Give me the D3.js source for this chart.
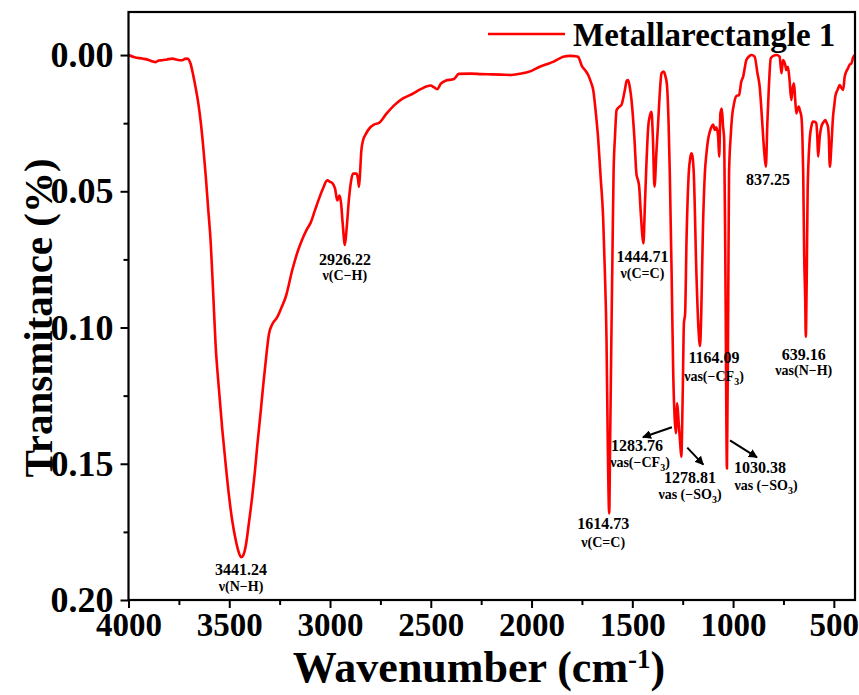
<!DOCTYPE html>
<html>
<head>
<meta charset="utf-8">
<script src="https://cdn.jsdelivr.net/npm/d3@7"></script>
<style>
  body { margin: 0; background: #fff; }
  svg { display: block; }
  text { font-family: "Liberation Serif", "Times New Roman", serif; font-weight: bold; fill: #000; }
</style>
</head>
<body>
<svg id="chart" width="859" height="695"></svg>
<script>
// FT-IR spectrum of Metallarectangle 1
const seriesName = "Metallarectangle 1";

const wavenumber = [
  4000, 3970, 3931, 3900, 3880, 3865, 3850, 3832, 3810, 3782, 3760, 3733, 3720, 3708, 3692, 3680,
  3667, 3655, 3642, 3630, 3617, 3605, 3592, 3580, 3568, 3552, 3535, 3518, 3501, 3485, 3468, 3455,
  3441.24, 3430, 3419, 3403, 3386, 3373, 3361, 3344, 3330, 3319, 3303, 3286, 3262, 3240, 3220, 3187,
  3160, 3138, 3115, 3096, 3075, 3055, 3035, 3014, 3000, 2986, 2975, 2964, 2953, 2945, 2937, 2926.22,
  2918, 2906, 2895, 2886, 2870, 2862, 2856, 2850, 2845, 2835, 2824, 2800, 2782, 2757, 2720, 2675,
  2640, 2592, 2550, 2501, 2485, 2468, 2450, 2427, 2385, 2361, 2300, 2250, 2200, 2150, 2100, 2050,
  2000, 1959, 1930, 1893, 1860, 1843, 1810, 1785, 1769, 1760, 1752, 1735, 1719, 1705, 1694, 1680,
  1669, 1657, 1645, 1636, 1628, 1622, 1614.73, 1610, 1604, 1598, 1593, 1586, 1578, 1565, 1554, 1537,
  1528, 1521, 1512, 1504, 1490, 1479, 1472, 1466, 1458, 1444.71, 1438, 1430, 1421, 1412, 1405, 1398,
  1390, 1380, 1372, 1362, 1355, 1344, 1335, 1328, 1320, 1314, 1305, 1297, 1290, 1283.76, 1277, 1270,
  1262, 1257, 1250, 1244, 1238, 1231, 1220, 1212, 1206, 1200, 1195, 1182, 1172, 1164.09, 1158, 1150,
  1140, 1132, 1124, 1115, 1107, 1099, 1091, 1083, 1074, 1069, 1063, 1056, 1050, 1044, 1038, 1030.38,
  1024, 1020, 1012, 1005, 995, 983, 970, 960, 950, 934, 918, 909, 893, 879, 868, 855,
  846, 837.25, 830, 823, 813, 798, 785, 769, 760, 752, 740, 736, 728, 720, 711, 705,
  698, 692, 686, 681, 674, 668, 661, 656, 652, 647, 642, 639.16, 635, 630, 620, 611,
  603, 595, 587, 582, 578, 570, 562, 550, 542, 535, 529, 525, 520, 512, 504, 497,
  493, 480, 471, 463, 454, 446, 438, 430, 421, 413, 405, 397
];

const transmittance = [
  0.0000, 0.0008, 0.0013, 0.0018, 0.0024, 0.0026, 0.0020, 0.0019, 0.0016, 0.0013, 0.0017, 0.0019, 0.0014, 0.0013, 0.0032, 0.0070,
  0.0119, 0.0170, 0.0243, 0.0330, 0.0441, 0.0560, 0.0689, 0.0870, 0.1061, 0.1220, 0.1371, 0.1500, 0.1620, 0.1710, 0.1780, 0.1820,
  0.1843, 0.1835, 0.1805, 0.1720, 0.1620, 0.1530, 0.1433, 0.1309, 0.1200, 0.1123, 0.1024, 0.0987, 0.0962, 0.0925, 0.0888, 0.0788,
  0.0720, 0.0677, 0.0640, 0.0615, 0.0570, 0.0528, 0.0490, 0.0460, 0.0465, 0.0472, 0.0490, 0.0534, 0.0516, 0.0545, 0.0620, 0.0697,
  0.0640, 0.0528, 0.0460, 0.0435, 0.0435, 0.0450, 0.0484, 0.0420, 0.0354, 0.0310, 0.0292, 0.0265, 0.0255, 0.0249, 0.0215, 0.0180,
  0.0160, 0.0143, 0.0125, 0.0112, 0.0118, 0.0125, 0.0105, 0.0094, 0.0088, 0.0069, 0.0068, 0.0070, 0.0071, 0.0072, 0.0073, 0.0068,
  0.0058, 0.0043, 0.0035, 0.0025, 0.0012, 0.0006, 0.0003, 0.0004, 0.0006, 0.0020, 0.0037, 0.0055, 0.0073, 0.0100, 0.0128, 0.0220,
  0.0312, 0.0450, 0.0593, 0.0800, 0.1046, 0.1413, 0.1682, 0.1413, 0.1046, 0.0700, 0.0434, 0.0300, 0.0202, 0.0190, 0.0183, 0.0128,
  0.0095, 0.0092, 0.0120, 0.0165, 0.0300, 0.0440, 0.0459, 0.0483, 0.0580, 0.0691, 0.0560, 0.0400, 0.0263, 0.0220, 0.0208, 0.0300,
  0.0483, 0.0350, 0.0250, 0.0120, 0.0067, 0.0061, 0.0080, 0.0110, 0.0250, 0.0434, 0.0800, 0.1168, 0.1330, 0.1388, 0.1278, 0.1350,
  0.1430, 0.1474, 0.1250, 0.0985, 0.0950, 0.0679, 0.0434, 0.0375, 0.0361, 0.0380, 0.0434, 0.0801, 0.1000, 0.1068, 0.0950, 0.0650,
  0.0434, 0.0360, 0.0310, 0.0280, 0.0263, 0.0255, 0.0275, 0.0265, 0.0300, 0.0373, 0.0214, 0.0196, 0.0260, 0.0312, 0.0800, 0.1517,
  0.0900, 0.0434, 0.0300, 0.0226, 0.0177, 0.0150, 0.0147, 0.0100, 0.0079, 0.0018, 0.0003, 0.0000, 0.0006, 0.0067, 0.0116, 0.0251,
  0.0350, 0.0410, 0.0251, 0.0128, 0.0012, 0.0002, 0.0000, 0.0006, 0.0067, 0.0018, 0.0040, 0.0055, 0.0043, 0.0090, 0.0165, 0.0125,
  0.0104, 0.0160, 0.0214, 0.0200, 0.0189, 0.0205, 0.0226, 0.0300, 0.0434, 0.0740, 0.0900, 0.1034, 0.0850, 0.0500, 0.0312, 0.0260,
  0.0244, 0.0245, 0.0251, 0.0300, 0.0373, 0.0300, 0.0263, 0.0245, 0.0239, 0.0250, 0.0263, 0.0300, 0.0410, 0.0330, 0.0226, 0.0180,
  0.0153, 0.0125, 0.0110, 0.0120, 0.0128, 0.0079, 0.0060, 0.0049, 0.0035, 0.0031, 0.0010, 0.0000
];

// Axis ticks
const xMajorTicks = [4000, 3500, 3000, 2500, 2000, 1500, 1000, 500];
const xMinorTicks = [3750, 3250, 2750, 2250, 1750, 1250, 750];
const yMajorTicks = [0.00, 0.05, 0.10, 0.15, 0.20];
const yMinorTicks = [0.025, 0.075, 0.125, 0.175];

// Band assignments
const peakWavenumbers = [3441.24, 2926.22, 1614.73, 1444.71, 1283.76, 1278.81, 1164.09, 1030.38, 837.25, 639.16];
const peakLabels = ["3441.24", "2926.22", "1614.73", "1444.71", "1283.76", "1278.81", "1164.09", "1030.38", "837.25", "639.16"];
const peakModes = [
  [["ν(N−H)"]],
  [["ν(C−H)"]],
  [["ν(C=C)"]],
  [["ν(C=C)"]],
  [["νas(−CF"], ["3", "sub"], [")"]],
  [["νas (−SO"], ["3", "sub"], [")"]],
  [["νas(−CF"], ["3", "sub"], [")"]],
  [["νas (−SO"], ["3", "sub"], [")"]],
  null,
  [["νas(N−H)"]]
];

const svg = d3.select("#chart");
const plot = { left: 128.5, right: 855, top: 12, bottom: 600 };

const x = d3.scaleLinear().domain([4000, 395]).range([plot.left, plot.right]);
const y = d3.scaleLinear().domain([-0.0158, 0.20]).range([plot.top, plot.bottom]);

// Spectrum
const points = wavenumber.map((w, i) => [w, transmittance[i]]);
const line = d3.line().x(d => x(d[0])).y(d => y(d[1])).curve(d3.curveMonotoneX);

svg.append("path")
  .datum(points)
  .attr("fill", "none")
  .attr("stroke", "#ff0000")
  .attr("stroke-width", 2.6)
  .attr("stroke-linejoin", "round")
  .attr("d", line);

// Axes
function styleAxis(size) {
  return g => {
    g.select(".domain").remove();
    g.selectAll(".tick line").attr("stroke", "#000").attr("stroke-width", 2);
    g.selectAll(".tick text")
      .style("font-size", size + "px")
      .style("font-family", "'Liberation Serif', serif")
      .style("font-weight", "bold");
  };
}

svg.append("g")
  .attr("transform", `translate(0,${plot.bottom})`)
  .call(d3.axisBottom(x).tickValues(xMajorTicks).tickSize(8).tickPadding(5).tickFormat(d3.format("d")))
  .call(styleAxis(33));

svg.append("g")
  .attr("transform", `translate(0,${plot.bottom})`)
  .call(d3.axisBottom(x).tickValues(xMinorTicks).tickSize(5).tickFormat(""))
  .call(styleAxis(33));

svg.append("g")
  .attr("transform", `translate(${plot.left},0)`)
  .call(d3.axisLeft(y).tickValues(yMajorTicks).tickSize(8).tickPadding(7).tickFormat(d3.format(".2f")))
  .call(styleAxis(36));

svg.append("g")
  .attr("transform", `translate(${plot.left},0)`)
  .call(d3.axisLeft(y).tickValues(yMinorTicks).tickSize(5).tickFormat(""))
  .call(styleAxis(36));

// Frame
svg.append("rect")
  .attr("x", plot.left).attr("y", plot.top)
  .attr("width", plot.right - plot.left).attr("height", plot.bottom - plot.top)
  .attr("fill", "none").attr("stroke", "#000").attr("stroke-width", 2.2);

// Axis titles
const xTitle = svg.append("text")
  .attr("x", 479)
  .attr("y", 682)
  .attr("text-anchor", "middle")
  .style("font-size", "44px");
xTitle.append("tspan").text("Wavenumber (cm");
xTitle.append("tspan").text("-1").attr("dy", -14).style("font-size", "27px");
xTitle.append("tspan").text(")").attr("dy", 14);

svg.append("text")
  .attr("transform", `translate(52,318) rotate(-90)`)
  .attr("text-anchor", "middle")
  .style("font-size", "41px")
  .text("Transmitance (%)");

// Legend
svg.append("line")
  .attr("x1", 488).attr("x2", 565).attr("y1", 34).attr("y2", 34)
  .attr("stroke", "#ff0000").attr("stroke-width", 2.6);
svg.append("text")
  .attr("x", 573).attr("y", 46)
  .style("font-size", "33px")
  .text(seriesName);

// Annotation layout: label offsets from each band minimum [dx, value-line dy, mode-line dy]
const labelOffsets = [
  [0, 18, 34], [0, 20, 35], [-6, 16, 34], [-1, 19, 35],
  null, null, [14, 17, 35], null, [2, 18, 0], [-2, 23, 38]
];
// Labels placed away from their band, tied to it by an arrow (offsets from the band minimum)
const arrowLabels = {
  "1283.76": { vx: 637, mx: 640, vy: 451, my: 467, from: [-4, -6], to: [-33, 4] },
  "1278.81": { vx: 690, mx: 690, vy: 483, my: 499, from: [6, -9], to: [22, 8] },
  "1030.38": { vx: 760, mx: 766, vy: 473, my: 490, from: [3, -28], to: [30, -11] }
};

svg.append("defs").append("marker")
  .attr("id", "arrow")
  .attr("viewBox", "0 0 10 10")
  .attr("refX", 9).attr("refY", 5)
  .attr("markerWidth", 4.5).attr("markerHeight", 4.5)
  .attr("orient", "auto")
  .append("path").attr("d", "M0,0 L10,5 L0,10 Z").attr("fill", "#000");

// Locate the band minimum in the spectrum: the listed point itself, else the deepest point within 25 cm-1
function bandMinimum(w) {
  const exact = wavenumber.indexOf(w);
  if (exact >= 0) return exact;
  let best = -1;
  wavenumber.forEach((v, i) => {
    if (Math.abs(v - w) <= 25 && (best < 0 || transmittance[i] > transmittance[best])) best = i;
  });
  return best;
}

const ann = svg.append("g");
peakWavenumbers.forEach((w, i) => {
  const idx = bandMinimum(w);
  const px = x(wavenumber[idx]), py = y(transmittance[idx]);
  const label = peakLabels[i];
  const mode = peakModes[i];
  let vx, mx, vy, my;
  if (arrowLabels[label]) {
    const a = arrowLabels[label];
    vx = a.vx; mx = a.mx; vy = a.vy; my = a.my;
    ann.append("line")
      .attr("x1", px + a.from[0]).attr("y1", py + a.from[1])
      .attr("x2", px + a.to[0]).attr("y2", py + a.to[1])
      .attr("stroke", "#000").attr("stroke-width", 2)
      .attr("marker-end", "url(#arrow)");
  } else {
    const o = labelOffsets[i];
    vx = mx = px + o[0]; vy = py + o[1]; my = py + o[2];
  }
  ann.append("text")
    .attr("x", vx).attr("y", vy)
    .attr("text-anchor", "middle")
    .style("font-size", "16px")
    .text(label);
  if (mode) {
    const t = ann.append("text")
      .attr("x", mx).attr("y", my)
      .attr("text-anchor", "middle")
      .style("font-size", "14px");
    mode.forEach((part, k) => {
      const s = t.append("tspan").text(part[0]);
      if (part[1] === "sub") s.attr("dy", 4).style("font-size", "10px");
      else if (k > 0) s.attr("dy", -4);
    });
  }
});
</script>
</body>
</html>
